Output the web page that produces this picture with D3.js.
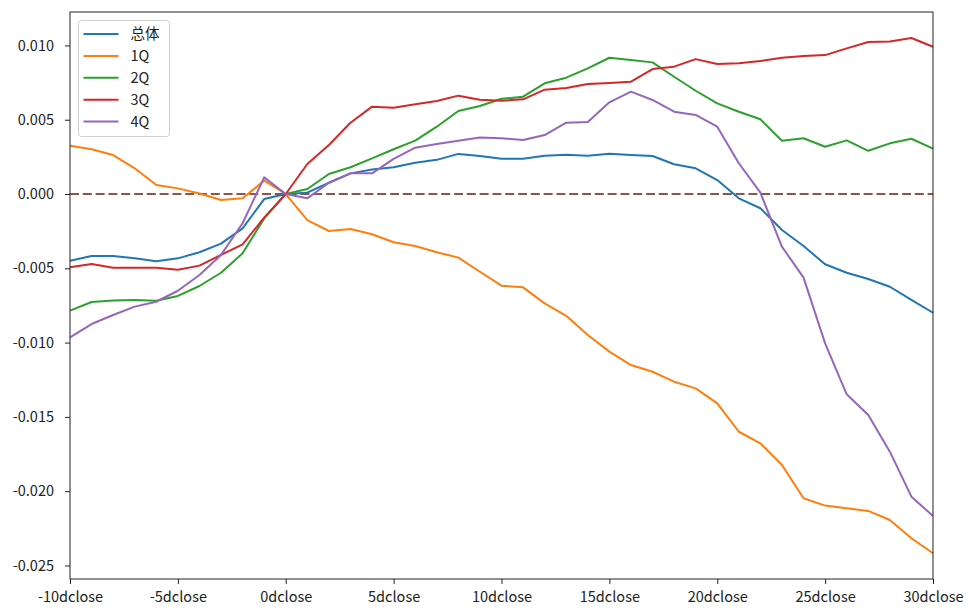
<!DOCTYPE html>
<html>
<head>
<meta charset="utf-8">
<script src="https://cdn.jsdelivr.net/npm/d3@7"></script>
<style>
  body { margin: 0; background: #fff; }
  svg text { font-family: "Noto Sans CJK SC", "DejaVu Sans", sans-serif; fill: #222; }
</style>
</head>
<body>
<div id="chart"></div>
<script>
// x positions -10 .. 30
const days = d3.range(-10, 31);
const xTicks = [-10, -5, 0, 5, 10, 15, 20, 25, 30];
const yTicks = [-0.025, -0.020, -0.015, -0.010, -0.005, 0.000, 0.005, 0.010];

const seriesNames = ["总体", "1Q", "2Q", "3Q", "4Q"];
const colors = ["#1f77b4", "#ff7f0e", "#2ca02c", "#d62728", "#9467bd"];

const total = [-0.00449, -0.00417, -0.00417, -0.00433, -0.00453, -0.00433, -0.00392, -0.00334, -0.00231, -0.00034,
  0, 0.00009, 0.00076, 0.00139, 0.00165, 0.0018, 0.0021, 0.0023, 0.0027, 0.00256,
  0.00238, 0.00238, 0.00258, 0.00265, 0.00258, 0.00271, 0.00262, 0.00256, 0.002, 0.00173,
  0.00094, -0.00029, -0.00096, -0.00242, -0.0035, -0.00473, -0.0053, -0.00572, -0.00624, -0.00713, -0.00799];
const q1 = [0.00325, 0.00301, 0.00262, 0.00173, 0.00061, 0.00038, 0.00004, -0.0004, -0.00029, 0.0009,
  0, -0.00175, -0.00249, -0.00236, -0.00271, -0.00325, -0.0035, -0.00392, -0.00428, -0.00523,
  -0.00617, -0.00628, -0.00736, -0.0082, -0.00949, -0.01061, -0.01151, -0.01196, -0.01263, -0.01308,
  -0.01409, -0.016, -0.01678, -0.01824, -0.02048, -0.02097, -0.02115, -0.02133, -0.02194, -0.02317, -0.02418];
const q2 = [-0.00785, -0.00727, -0.00716, -0.00713, -0.00718, -0.00686, -0.00619, -0.0053, -0.00399, -0.00164,
  0, 0.00034, 0.00135, 0.0018, 0.0024, 0.00301, 0.00359, 0.00453, 0.00559, 0.00592,
  0.00641, 0.00655, 0.00745, 0.00783, 0.00846, 0.00917, 0.00902, 0.00886, 0.00789, 0.00695,
  0.0061, 0.00554, 0.00503, 0.00359, 0.00375, 0.00318, 0.00361, 0.00291, 0.00341, 0.00372, 0.00305];
const q3 = [-0.00493, -0.00471, -0.00496, -0.00496, -0.00496, -0.00509, -0.00482, -0.0041, -0.00339, -0.00159,
  0, 0.00202, 0.0033, 0.0048, 0.00588, 0.00581, 0.00604, 0.00626, 0.00662, 0.00635,
  0.00628, 0.00637, 0.00702, 0.00713, 0.0074, 0.00747, 0.00756, 0.00841, 0.00857, 0.00908,
  0.00875, 0.0088, 0.00895, 0.00917, 0.00929, 0.00935, 0.0098, 0.01023, 0.01027, 0.0105, 0.00991];
const q4 = [-0.00965, -0.00875, -0.00814, -0.00758, -0.00725, -0.00651, -0.00545, -0.0041, -0.00197, 0.00112,
  0, -0.00029, 0.00076, 0.00139, 0.00139, 0.00236, 0.00312, 0.00336, 0.00359, 0.00381,
  0.00375, 0.00363, 0.00397, 0.0048, 0.00485, 0.00617, 0.00689, 0.00633, 0.00554, 0.00532,
  0.00453, 0.00207, 0.00009, -0.00355, -0.00563, -0.01005, -0.01348, -0.01487, -0.01734, -0.02037, -0.02167];

const allSeries = [total, q1, q2, q3, q4];

const W = 966, H = 615;
const margin = {top: 12, right: 33, bottom: 36, left: 70};
const w = W - margin.left - margin.right;
const h = H - margin.top - margin.bottom;

let svg = d3.select("#chart").append("svg")
  .attr("width", W)
  .attr("height", H);

let g = svg.append("g").attr("transform", `translate(${margin.left},${margin.top})`);

let x = d3.scaleLinear().domain([-10, 30]).range([0, w]);
let y = d3.scaleLinear().domain([-0.02591, 0.01225]).range([h, 0]);

// zero reference line
g.append("line")
  .attr("x1", x(-10)).attr("x2", x(30))
  .attr("y1", y(0)).attr("y2", y(0))
  .attr("stroke", "#8c564b")
  .attr("stroke-width", 2)
  .attr("stroke-dasharray", "9,3.8");

let line = d3.line()
  .x((d, i) => x(days[i]))
  .y(d => y(d));

g.selectAll("path.series")
  .data(allSeries)
  .enter().append("path")
  .attr("class", "series")
  .attr("d", line)
  .attr("fill", "none")
  .attr("stroke", (d, i) => colors[i])
  .attr("stroke-width", 2)
  .attr("stroke-linejoin", "round");

// axes
let xAxis = g.append("g")
  .attr("transform", `translate(0,${h})`)
  .call(d3.axisBottom(x).tickValues(xTicks).tickSize(5).tickPadding(5)
    .tickFormat(d => (d < 0 ? "-" : "") + Math.abs(d) + "dclose"));
let yAxis = g.append("g")
  .call(d3.axisLeft(y).tickValues(yTicks).tickSize(5).tickPadding(11)
    .tickFormat(d => (d < 0 ? "-" : "") + d3.format(".3f")(Math.abs(d))));

[xAxis, yAxis].forEach(a => {
  a.selectAll("text").style("font-size", "14.5px").attr("fill", "#222");
  a.selectAll("line").attr("stroke", "#222");
  a.select(".domain").remove();
});
xAxis.selectAll("text").attr("dy", "0.9em");

// frame
g.append("rect")
  .attr("width", w).attr("height", h)
  .attr("fill", "none")
  .attr("stroke", "#222")
  .attr("stroke-width", 1);

// legend
let legend = g.append("g").attr("transform", "translate(8.5,8.5)");
legend.append("rect")
  .attr("width", 91).attr("height", 116)
  .attr("rx", 3)
  .attr("fill", "#fff")
  .attr("fill-opacity", 0.8)
  .attr("stroke", "#d0d0d0");

seriesNames.forEach((name, i) => {
  let ly = 13.5 + i * 21.9;
  legend.append("line")
    .attr("x1", 5).attr("x2", 40)
    .attr("y1", ly).attr("y2", ly)
    .attr("stroke", colors[i])
    .attr("stroke-width", 2);
  legend.append("text")
    .attr("x", 52).attr("y", ly)
    .attr("dy", "0.35em")
    .style("font-size", "14.5px")
    .text(name);
});
</script>
</body>
</html>
